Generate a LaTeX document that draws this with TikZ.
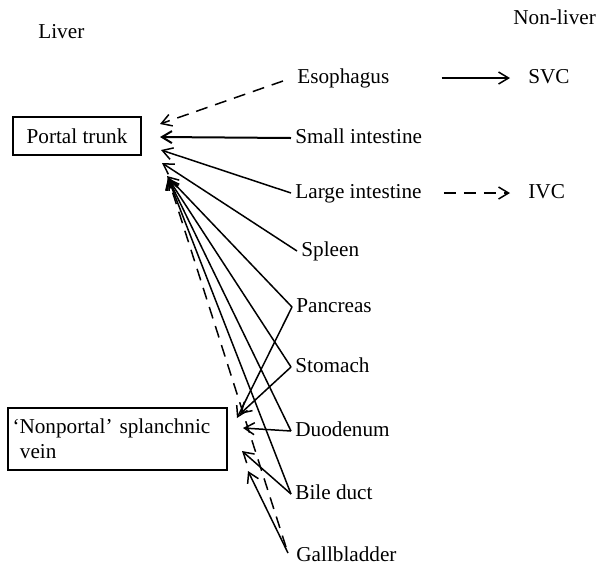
\documentclass[tikz,border=0pt]{standalone}
\usepackage{fontspec}
\setmainfont{Liberation Serif}
\usetikzlibrary{arrows.meta,positioning}

\begin{document}
\begin{tikzpicture}[
    x=0.5pt, y=-0.5pt,
    font=\fontsize{10.6}{12.5}\selectfont,
    >={Straight Barb[length=5pt,width=6pt]},
    organ/.style={anchor=base west, inner sep=2pt, text height=7.5pt, text depth=2.5pt},
    vbox/.style={draw, line width=0.65pt, inner sep=2pt},
    link/.style={->, line width=0.75pt},
    dlink/.style={link, dash pattern=on 6pt off 4pt}
]
\useasboundingbox (0,0) rectangle (596,569);

% Headings
\node[anchor=base west, inner sep=0pt] (liver) at (38,38) {Liver};
\node[anchor=base west, inner sep=0pt] (nonliver) at (513,24) {Non-liver};

% Liver side
\node[vbox, minimum width=64pt, minimum height=19pt] (portal) at (77,136) {Portal trunk};
\node[vbox, minimum width=109.5pt, minimum height=31pt, text width=105pt, align=left] (nonportal) at (117.5,439)
    {‘Nonportal’ splanchnic\\\hspace{0.35em}vein};

% Organs
\node[organ] (eso)   at (293,83)  {Esophagus};
\node[organ] (small) at (291,143) {Small intestine};
\node[organ] (large) at (291,198) {Large intestine};
\node[organ] (spl)   at (297,256) {Spleen};
\node[organ] (pan)   at (292,312) {Pancreas};
\node[organ] (sto)   at (291,372) {Stomach};
\node[organ] (duo)   at (291,436) {Duodenum};
\node[organ] (bile)  at (291,499) {Bile duct};
\node[organ] (gall)  at (292,561) {Gallbladder};

% Non-liver side
\node[organ] (svc) at (524,83)  {SVC};
\node[organ] (ivc) at (524,198) {IVC};

% Arrow tips near the boxes
\coordinate (p1) at (160,124);
\coordinate (p2) at (160,137);
\coordinate (p3) at (161,150);
\coordinate (p4) at (162,163);
\coordinate (p5) at (167,176);
\coordinate (p6) at (168,178);
\coordinate (n1) at (237,418);
\coordinate (n2) at (240,414);
\coordinate (n3) at (243,428);
\coordinate (n4) at (242,451);
\coordinate (n5) at (248,471);

% To portal trunk
\draw[dlink] ([shift={(-10,3)}]eso.west) -- (p1);
\draw[link, line width=1pt] (small.west) -- (p2);
\draw[link] (large.west) -- (p3);
\draw[link] (spl.west) -- (p4);
\draw[link] (pan.west) -- (p5);
\draw[link] (sto.west) -- (p6);
\draw[link] (duo.west) -- (p6);
\draw[link] (bile.west) -- (p6);
\draw[dlink] ([shift={(-6,-9)}]gall.west) -- (p6);

% To nonportal vein
\draw[link] (pan.west) -- (n1);
\draw[link] (sto.west) -- (n2);
\draw[link] (duo.west) -- (n3);
\draw[link] (bile.west) -- (n4);
\draw[link] ([shift={(-4,-3)}]gall.west) -- (n5);

% Systemic outflow
\draw[link] ([xshift=24pt]eso.east) -- ([xshift=-7pt]svc.west);
\draw[dlink] ([xshift=9pt]large.east) -- ([xshift=-7pt]ivc.west);

\end{tikzpicture}
\end{document}
